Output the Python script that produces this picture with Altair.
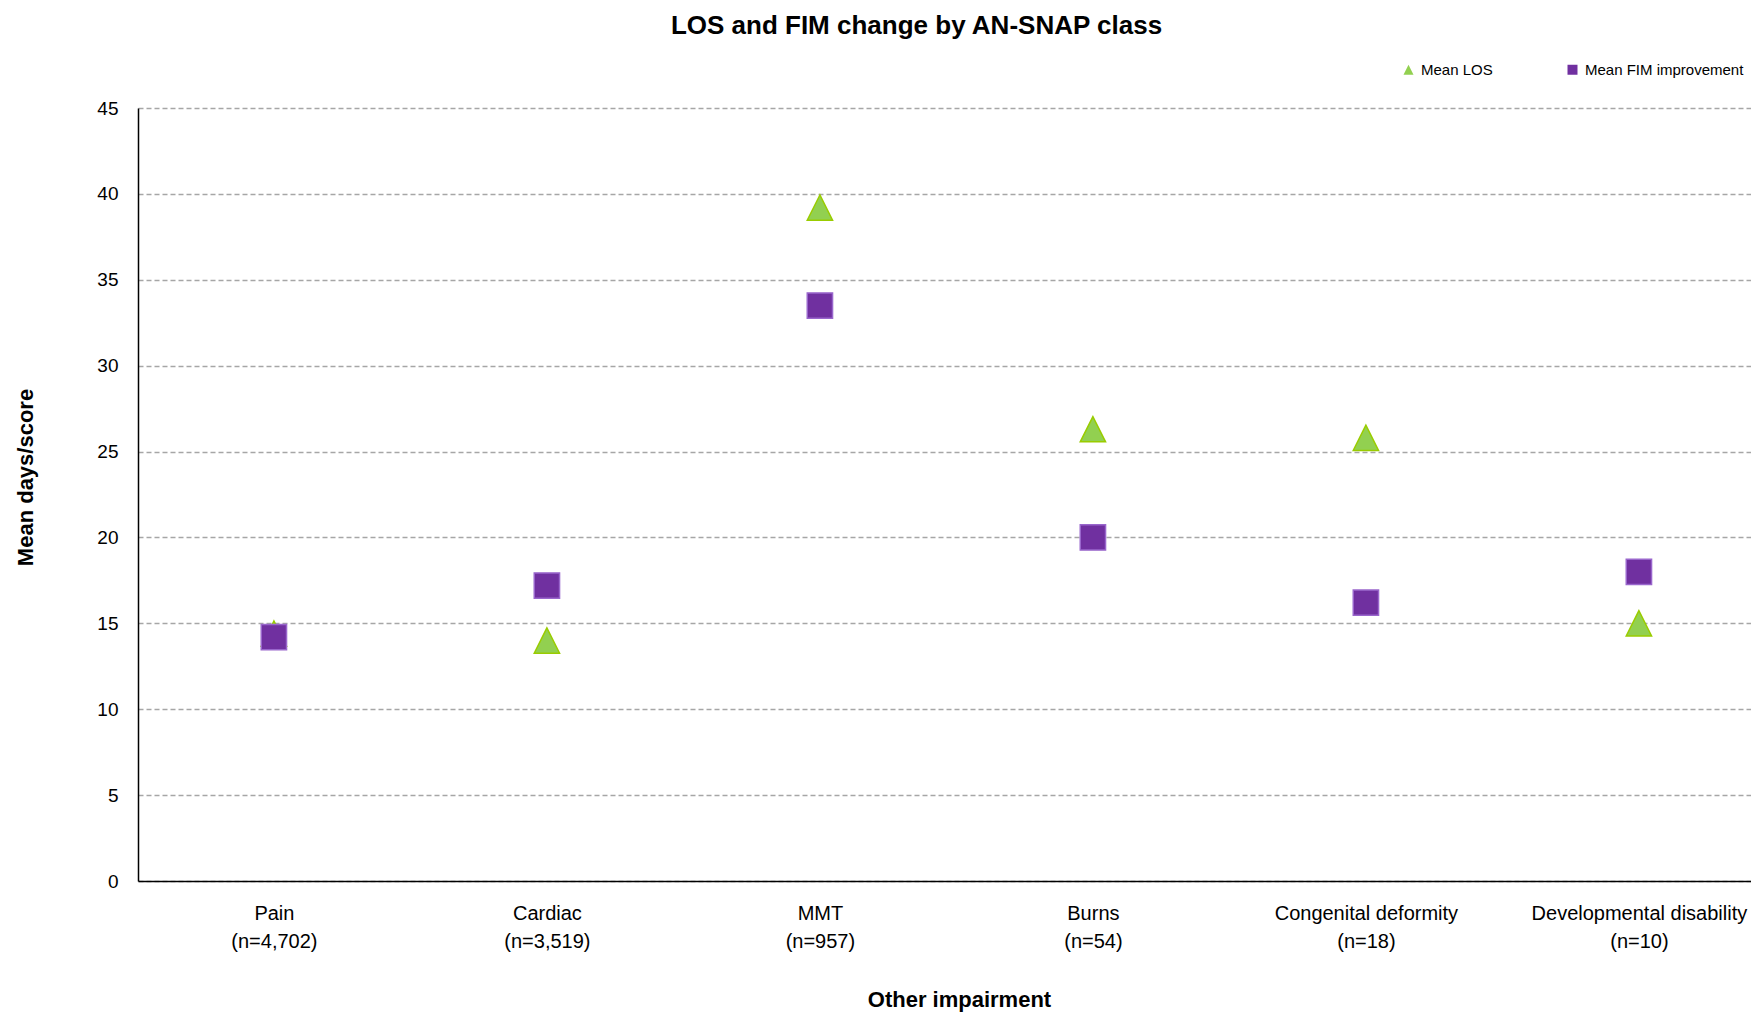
import altair as alt
import pandas as pd

categories = ["Pain", "Cardiac", "MMT", "Burns", "Congenital deformity", "Developmental disability"]
counts = ["(n=4,702)", "(n=3,519)", "(n=957)", "(n=54)", "(n=18)", "(n=10)"]
mean_los = [14.4, 14.0, 39.2, 26.3, 25.8, 15.0]
mean_fim = [14.2, 17.2, 33.5, 20.0, 16.2, 18.0]
series = ["Mean LOS", "Mean FIM improvement"]
y_ticks = [0, 5, 10, 15, 20, 25, 30, 35, 40, 45]

labels = [f"{c}\n{n}" for c, n in zip(categories, counts)]
rows = []
for lab, v in zip(labels, mean_los):
    rows.append({"cls": lab, "series": series[0], "value": v})
for lab, v in zip(labels, mean_fim):
    rows.append({"cls": lab, "series": series[1], "value": v})
df = pd.DataFrame(rows)

FONT = "Liberation Sans, Arial, sans-serif"
TRI = "M0,-1L-1,1L1,1Z"

W = 1613
H = 773

chart = alt.Chart(df).mark_point(filled=True, opacity=1, strokeWidth=1.5).encode(
    x=alt.X("cls:N", sort=labels,
            scale=alt.Scale(type="point", padding=0.4542, align=0.548),
            axis=alt.Axis(title="Other impairment", labelExpr="split(datum.label, '\\n')",
                          labelAngle=0, ticks=False, grid=False, labelPadding=22, labelLimit=0,
                          labelFontSize=20, labelLineHeight=28, labelFont=FONT, labelColor="#000000",
                          domainColor="#000000", domainWidth=1.5,
                          titleFont=FONT, titleFontSize=22, titleFontWeight="bold", titleColor="#000000",
                          titleX=821, titleY=118, titleAlign="center", titleBaseline="middle")),
    y=alt.Y("value:Q",
            scale=alt.Scale(domain=[0, 45], nice=False, zero=True),
            axis=alt.Axis(title="Mean days/score", values=y_ticks, ticks=False, labelPadding=20,
                          labelFontSize=19, labelFont=FONT, labelColor="#000000",
                          domainColor="#000000", domainWidth=1.5,
                          grid=True, gridColor="#A6A6A6", gridDash=[5, 3], gridWidth=1.3,
                          titleFont=FONT, titleFontSize=22, titleFontWeight="bold", titleColor="#000000",
                          titleAngle=270, titleX=-113, titleY=369, titleAlign="center", titleBaseline="middle")),
    color=alt.Color("series:N", scale=alt.Scale(domain=series, range=["#92D050", "#7030A0"]),
                    legend=alt.Legend(title=None, orient="none", direction="horizontal",
                                      legendX=1263, legendY=-46, symbolSize=100, labelFontSize=15,
                                      labelFont=FONT, labelColor="#000000", labelOffset=5,
                                      columnPadding=72, padding=0, symbolStrokeWidth=0)),
    shape=alt.Shape("series:N", scale=alt.Scale(domain=series, range=[TRI, "square"])),
    stroke=alt.Stroke("series:N", scale=alt.Scale(domain=series, range=["#99CC00", "#9966CC"]), legend=None),
    order=alt.Order("order_idx:Q"),
    size=alt.value(640),
).transform_calculate(
    order_idx="datum.series == 'Mean LOS' ? 0 : 1"
).properties(
    width=W, height=H,
    autosize=alt.AutoSizeParams(type="none"),
    padding={"left": 130, "top": 100, "right": 0, "bottom": 140},
    title=alt.Title("LOS and FIM change by AN-SNAP class", anchor="middle", dx=-28, offset=2,
                    baseline="alphabetic",
                    font=FONT, fontSize=26, fontWeight="bold", color="#000000"),
).configure_view(stroke=None)

chart.save("out.html", embed_options={"renderer": "svg", "actions": False})
